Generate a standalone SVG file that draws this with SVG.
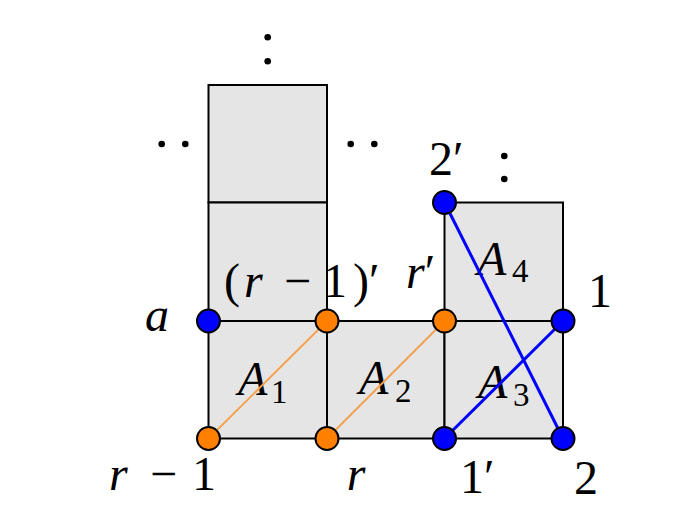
<svg xmlns="http://www.w3.org/2000/svg" width="682" height="517" viewBox="0 0 682 517">
<style>
.cell{fill:#e5e5e5;stroke:#000;stroke-width:2}
.nd{stroke:#000;stroke-width:2}
.b{fill:#0000ff}
.o{fill:#ff8000}
.lo{stroke:#f7a04a;stroke-width:1.8;fill:none}
.lb{stroke:#0000ff;stroke-width:3;fill:none}
.t{font-family:"Liberation Serif","Times New Roman",serif;font-size:48px;fill:#000}
.i{font-style:italic}
.s{font-size:33px}
.dot{fill:#000}
</style>
<rect width="682" height="517" fill="#fff"/>
<g id="cells">
<rect class="cell" x="208.5" y="85" width="118.5" height="117.5"/>
<rect class="cell" x="208.5" y="202.5" width="118.5" height="118.5"/>
<rect class="cell" x="208.5" y="321" width="118.5" height="117.5"/>
<rect class="cell" x="327" y="321" width="117.5" height="117.5"/>
<rect class="cell" x="444.5" y="321" width="118.5" height="117.5"/>
<rect class="cell" x="444.5" y="202.5" width="118.5" height="118.5"/>
</g>
<g id="dots">
<circle class="dot" cx="267.7" cy="37.3" r="3.3"/>
<circle class="dot" cx="267.7" cy="61.3" r="3.3"/>
<circle class="dot" cx="161.7" cy="144" r="3.3"/>
<circle class="dot" cx="185.3" cy="144" r="3.3"/>
<circle class="dot" cx="350.7" cy="144" r="3.3"/>
<circle class="dot" cx="374.3" cy="144" r="3.3"/>
<circle class="dot" cx="504.3" cy="156" r="3.3"/>
<circle class="dot" cx="504.3" cy="179" r="3.3"/>
</g>
<g id="area-labels">
<text class="t" y="395"><tspan class="i" x="238">A</tspan><tspan class="s" x="271" dy="8">1</tspan></text>
<text class="t" y="394"><tspan class="i" x="359">A</tspan><tspan class="s" x="395" dy="8">2</tspan></text>
<text class="t" y="398"><tspan class="i" x="478">A</tspan><tspan class="s" x="513" dy="8">3</tspan></text>
<text class="t" y="275"><tspan class="i" x="477">A</tspan><tspan class="s" x="512" dy="7">4</tspan></text>
</g>
<g id="connectors">
<line class="lo" x1="208.5" y1="438.5" x2="327" y2="321"/>
<line class="lo" x1="327" y1="438.5" x2="444.5" y2="321"/>
<line class="lb" x1="444.5" y1="202.5" x2="563" y2="438.5"/>
<line class="lb" x1="444.5" y1="438.5" x2="563" y2="321"/>
</g>
<g id="node-a"><circle class="nd b" cx="208.5" cy="321" r="11.5"/><text class="t i" x="157" y="331" text-anchor="middle">a</text></g>
<g id="node-rm1"><circle class="nd o" cx="208.5" cy="438.5" r="11.5"/><text class="t" y="490"><tspan class="i" x="109">r</tspan><tspan x="150">−</tspan><tspan x="192">1</tspan></text></g>
<g id="node-rm1p"><circle class="nd o" cx="327" cy="321" r="11.5"/><text class="t" y="297"><tspan x="224">(</tspan><tspan class="i" x="244">r</tspan><tspan x="284">−</tspan><tspan x="323">1</tspan><tspan x="353">)′</tspan></text></g>
<g id="node-r"><circle class="nd o" cx="327" cy="438.5" r="11.5"/><text class="t i" x="356" y="490" text-anchor="middle">r</text></g>
<g id="node-rp"><circle class="nd o" cx="444.5" cy="321" r="11.5"/><text class="t" y="288"><tspan class="i" x="406">r</tspan>′</text></g>
<g id="node-1p"><circle class="nd b" cx="444.5" cy="438.5" r="11.5"/><text class="t" x="460" y="493">1′</text></g>
<g id="node-1"><circle class="nd b" cx="563" cy="321" r="11.5"/><text class="t" x="600" y="307" text-anchor="middle">1</text></g>
<g id="node-2"><circle class="nd b" cx="563" cy="438.5" r="11.5"/><text class="t" x="586" y="494" text-anchor="middle">2</text></g>
<g id="node-2p"><circle class="nd b" cx="444.5" cy="202.5" r="11.5"/><text class="t" x="429" y="175">2′</text></g>
</svg>
